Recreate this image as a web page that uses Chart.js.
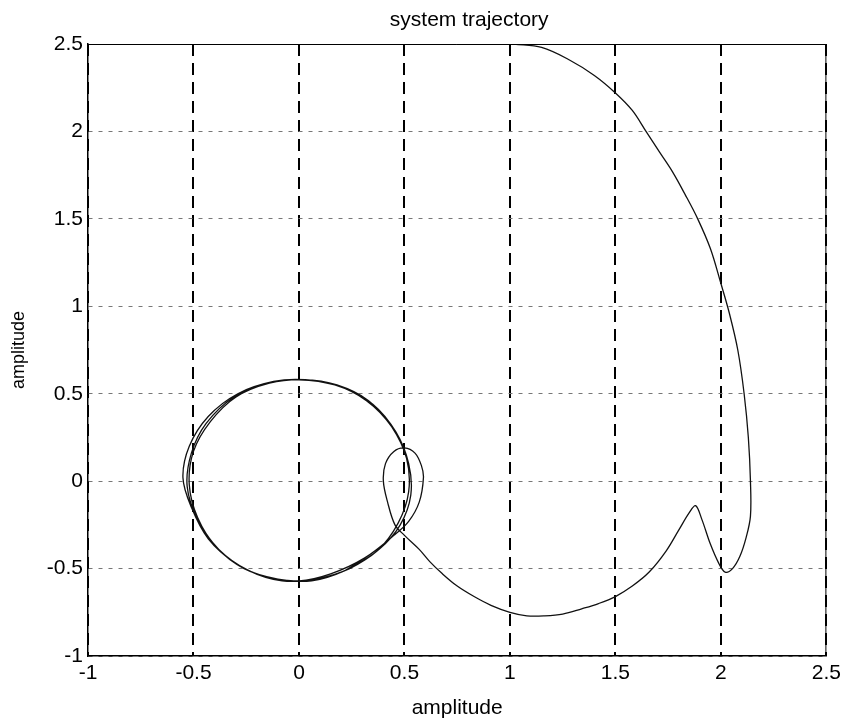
<!DOCTYPE html>
<html>
<head>
<meta charset="utf-8">
<script src="https://cdn.jsdelivr.net/npm/chart.js@4"></script>
<style>
  body { margin: 0; background: #fff; }
  #wrap { width: 846px; height: 725px; }
</style>
</head>
<body>
<div id="wrap"><canvas id="grafico" width="846" height="725"></canvas></div>
<script>
// tick labels
var xTicks = [-1, -0.5, 0, 0.5, 1, 1.5, 2, 2.5];
var yTicks = [-1, -0.5, 0, 0.5, 1, 1.5, 2, 2.5];
var titulo = 'system trajectory';

// outer branch, from the top down to the small loop
var outerX = [1.02, 1.15, 1.28, 1.40, 1.50, 1.58, 1.645, 1.71, 1.77, 1.83, 1.89, 1.95, 2.00, 2.04, 2.08, 2.11, 2.13, 2.14, 2.14, 2.12, 2.09, 2.055, 2.02, 1.99, 1.95, 1.91, 1.88, 1.85, 1.80, 1.74, 1.66, 1.58, 1.50, 1.42, 1.34, 1.25, 1.165, 1.08, 1.00, 0.91, 0.83, 0.75, 0.68, 0.62, 0.57, 0.50, 0.455];
var outerY = [2.50, 2.48, 2.41, 2.32, 2.22, 2.12, 2.00, 1.88, 1.77, 1.64, 1.50, 1.33, 1.13, 0.96, 0.75, 0.50, 0.25, 0.00, -0.20, -0.32, -0.43, -0.50, -0.52, -0.47, -0.36, -0.22, -0.14, -0.18, -0.28, -0.40, -0.52, -0.60, -0.66, -0.70, -0.73, -0.76, -0.77, -0.77, -0.75, -0.71, -0.66, -0.60, -0.53, -0.46, -0.39, -0.31, -0.25];

// small loop near x=0.5
var loopX = [0.42, 0.40, 0.41, 0.45, 0.50, 0.55, 0.58, 0.59, 0.57, 0.52, 0.45];
var loopY = [-0.12, 0.00, 0.10, 0.17, 0.19, 0.16, 0.09, 0.02, -0.12, -0.23, -0.31];

// laps around the limit cycle
var cycleX = [0.31, 0.15, 0.00, -0.15, -0.30, -0.43, -0.51, -0.55, -0.52, -0.43, -0.29, -0.12, 0.03, 0.20, 0.35, 0.46, 0.52, 0.53, 0.48, 0.38,
              0.24, 0.08, -0.08, -0.24, -0.38, -0.48, -0.53, -0.51, -0.44, -0.31, -0.15, 0.00, 0.17, 0.32, 0.44, 0.51, 0.52, 0.47, 0.37,
              0.22, 0.06, -0.10, -0.26, -0.39, -0.48, -0.52, -0.50, -0.42, -0.30, -0.14, 0.02, 0.18, 0.33, 0.44, 0.51, 0.52, 0.47, 0.37, 0.22];
var cycleY = [-0.44, -0.53, -0.57, -0.55, -0.47, -0.33, -0.15, 0.02, 0.20, 0.37, 0.50, 0.57, 0.58, 0.54, 0.44, 0.28, 0.10, -0.08, -0.25, -0.39,
              -0.50, -0.56, -0.57, -0.51, -0.39, -0.22, -0.03, 0.16, 0.33, 0.48, 0.56, 0.58, 0.55, 0.46, 0.31, 0.13, -0.06, -0.24, -0.40,
              -0.51, -0.57, -0.56, -0.50, -0.38, -0.21, -0.02, 0.17, 0.34, 0.48, 0.56, 0.58, 0.55, 0.46, 0.31, 0.13, -0.06, -0.24, -0.40, -0.51];

var trajX = outerX.concat(loopX, cycleX);
var trajY = outerY.concat(loopY, cycleY);
var puntos = [];
for (var i = 0; i < trajX.length; i++) {
  puntos.push({x: trajX[i], y: trajY[i]});
}

var fuente = 'Liberation Sans, Arial, sans-serif';

// thin frame on top and right like the matlab box, plus the title over the axes
var marco = {
  id: 'marco',
  afterDatasetsDraw: function(chart) {
    var a = chart.chartArea, ctx = chart.ctx;
    ctx.save();
    ctx.strokeStyle = '#000';
    ctx.lineWidth = 1;
    ctx.beginPath();
    ctx.moveTo(a.left, a.top + 0.5);
    ctx.lineTo(a.right - 0.5, a.top + 0.5);
    ctx.lineTo(a.right - 0.5, a.bottom);
    ctx.stroke();
    ctx.fillStyle = '#000';
    ctx.font = '21px ' + fuente;
    ctx.textAlign = 'center';
    ctx.textBaseline = 'middle';
    ctx.fillText(titulo, (a.left + a.right) / 2 + 12, 20);
    ctx.restore();
  }
};

var contexto = document.getElementById('grafico').getContext('2d');
var myChart = new Chart(contexto, {
  type: 'scatter',
  data: {
    datasets: [{
      label: 'trajectory',
      data: puntos,
      showLine: true,
      borderColor: '#111',
      borderWidth: 1.3,
      pointRadius: 0,
      tension: 0.35,
      fill: false
    }]
  },
  options: {
    responsive: false,
    animation: false,
    layout: { padding: { left: 0, right: 16, top: 44, bottom: 0 } },
    plugins: {
      legend: { display: false },
      tooltip: { enabled: false },
      title: { display: false }
    },
    scales: {
      x: {
        type: 'linear',
        min: -1,
        max: 2.5,
        afterFit: function(scale) { scale.height = 69; },
        afterBuildTicks: function(scale) {
          scale.ticks = xTicks.map(function(v) { return {value: v}; });
        },
        ticks: {
          color: '#000',
          padding: 5,
          font: { family: fuente, size: 21 },
          callback: function(v) { return String(v); }
        },
        grid: { color: '#000', lineWidth: 2, drawTicks: false },
        border: { display: true, color: '#000', width: 1.5, dash: [12, 7] },
        title: {
          display: true,
          text: 'amplitude',
          color: '#000',
          font: { family: fuente, size: 21 },
          padding: { top: 2 }
        }
      },
      y: {
        type: 'linear',
        min: -1,
        max: 2.5,
        afterFit: function(scale) { scale.width = 88; },
        afterBuildTicks: function(scale) {
          scale.ticks = yTicks.map(function(v) { return {value: v}; });
        },
        ticks: {
          color: '#000',
          padding: 5,
          font: { family: fuente, size: 21 },
          callback: function(v) { return String(v); }
        },
        grid: { color: '#777', lineWidth: 1, drawTicks: false },
        border: { display: true, color: '#000', width: 1.5, dash: [4, 6] },
        title: {
          display: true,
          text: 'amplitude',
          color: '#000',
          font: { family: fuente, size: 18 },
          padding: { top: 8, bottom: 4 }
        }
      }
    }
  },
  plugins: [marco]
});
</script>
</body>
</html>
